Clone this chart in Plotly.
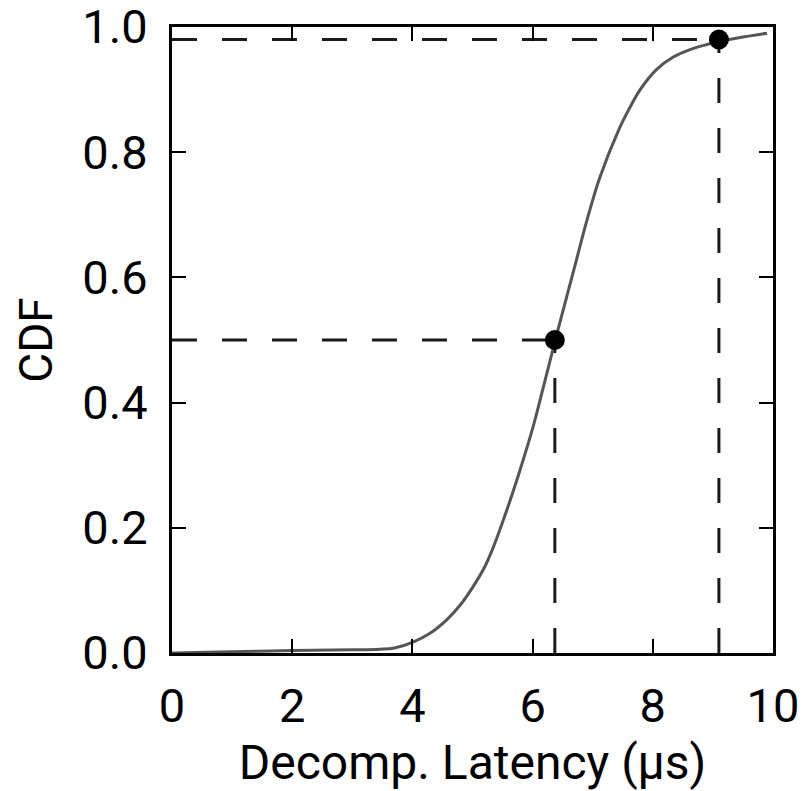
import plotly.graph_objects as go

# CDF of decompression latency (µs)
latency_us = [0.0, 1.0, 2.0, 3.0, 3.46, 3.7, 4.0, 4.3, 4.57, 4.8, 5.01, 5.2, 5.35, 5.57, 5.79,
              6.01, 6.18, 6.37, 6.57, 6.73, 6.90, 7.12, 7.43, 7.60, 7.79, 8.06, 8.34, 8.62,
              8.90, 9.12, 9.50, 9.90]
cdf = [0.0, 0.002, 0.004, 0.005, 0.006, 0.008, 0.017, 0.032, 0.053, 0.077, 0.106, 0.137, 0.170, 0.228, 0.292,
       0.362, 0.425, 0.497, 0.570, 0.628, 0.690, 0.760, 0.835, 0.868, 0.900, 0.932, 0.952, 0.964,
       0.972, 0.977, 0.984, 0.990]

# Highlighted percentiles: median and 98th
marker_x = [6.37, 9.10]
marker_y = [0.50, 0.98]

x_ticks = [0, 2, 4, 6, 8, 10]
y_ticks = [0.0, 0.2, 0.4, 0.6, 0.8, 1.0]
y_tick_text = ["0.0", "0.2", "0.4", "0.6", "0.8", "1.0"]

fig = go.Figure()

# Guide lines from the axes to each highlighted point
for mx, my in zip(marker_x, marker_y):
    fig.add_trace(go.Scatter(x=[0, mx], y=[my, my], mode="lines",
                             line=dict(color="#1a1a1a", width=3, dash="25px,25px"),
                             showlegend=False, hoverinfo="skip"))
    fig.add_trace(go.Scatter(x=[mx, mx], y=[0, my], mode="lines",
                             line=dict(color="#1a1a1a", width=3, dash="25px,25px"),
                             showlegend=False, hoverinfo="skip"))

fig.add_trace(go.Scatter(x=latency_us, y=cdf, mode="lines",
                         line=dict(color="#555555", width=3, shape="spline", smoothing=1.0),
                         showlegend=False))

fig.add_trace(go.Scatter(x=marker_x, y=marker_y, mode="markers",
                         marker=dict(color="black", size=20),
                         cliponaxis=False, showlegend=False))

axis_common = dict(
    showgrid=False, zeroline=False, automargin=False,
    showline=True, linecolor="black", linewidth=3, mirror="allticks",
    ticks="inside", ticklen=14, tickwidth=1.5, tickcolor="black",
    ticklabeloverflow="allow",
    tickfont=dict(family="Roboto", size=47, color="black"),
)

fig.update_layout(
    width=805, height=791,
    margin=dict(l=172, r=32, t=27, b=138),
    paper_bgcolor="white", plot_bgcolor="white",
    font=dict(family="Roboto", color="black"),
    xaxis=dict(range=[0, 10], tickvals=x_ticks, ticklabelstandoff=10,
               title=dict(text="Decomp. Latency (μs)", font=dict(size=48), standoff=16),
               **axis_common),
    yaxis=dict(range=[0, 1], tickvals=y_ticks, ticktext=y_tick_text, ticklabelstandoff=12,
               title=dict(text="CDF", font=dict(size=46), standoff=16),
               **axis_common),
)

fig.write_html("out.html")
